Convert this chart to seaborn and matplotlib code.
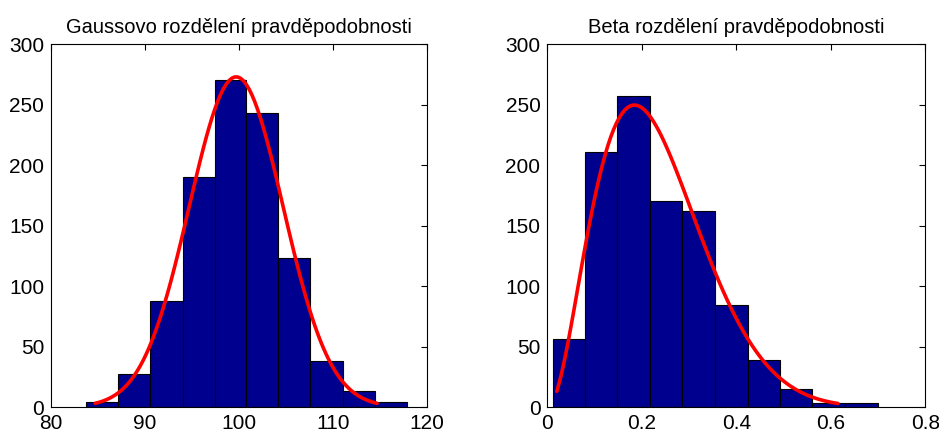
import math
import numpy as np
import pandas as pd
import matplotlib
matplotlib.use("Agg")
import matplotlib.pyplot as plt
import seaborn as sns

# Histogram of the Gaussian sample (bin edges and counts)
gauss_edges = [83.7, 87.1, 90.5, 94.0, 97.4, 100.8, 104.2, 107.6, 111.1, 114.5, 117.9]
gauss_counts = [4, 27, 88, 190, 270, 243, 123, 38, 13, 4]
gauss_mu = 99.7
gauss_sigma = 5.0

# Histogram of the Beta sample (bin edges and counts)
beta_edges = [0.011, 0.079, 0.148, 0.217, 0.286, 0.355, 0.424, 0.492, 0.561, 0.630, 0.699]
beta_counts = [56, 211, 257, 170, 162, 84, 39, 15, 3, 3]
beta_a = 3.1
beta_b = 10.3
beta_range = [0.02, 0.615]

titles = ["Gaussovo rozdělení pravděpodobnosti", "Beta rozdělení pravděpodobnosti"]
gauss_xticks = [80, 90, 100, 110, 120]
beta_xticks = [0, 0.2, 0.4, 0.6, 0.8]
beta_xticklabels = ["0", "0.2", "0.4", "0.6", "0.8"]
yticks = [0, 50, 100, 150, 200, 250, 300]

sns.set_theme(style="white")
plt.rcParams["font.family"] = ["Liberation Sans", "DejaVu Sans"]

BAR = "#00008f"


def normal_pdf(x, mu, s):
    return np.exp(-0.5 * ((x - mu) / s) ** 2) / (s * math.sqrt(2 * math.pi))


def beta_pdf(x, a, b):
    lnb = math.lgamma(a) + math.lgamma(b) - math.lgamma(a + b)
    return np.exp((a - 1) * np.log(x) + (b - 1) * np.log(1 - x) - lnb)


def draw_hist(ax, edges, counts):
    e = np.asarray(edges, dtype=float)
    df = pd.DataFrame({"value": (e[:-1] + e[1:]) / 2, "count": counts})
    sns.histplot(data=df, x="value", weights="count", bins=list(edges),
                 color=BAR, edgecolor="black", linewidth=0.8, alpha=1.0, ax=ax)


def style_axes(ax, title):
    ax.set_ylim(0, 300)
    ax.set_yticks(yticks)
    ax.set_xlabel("")
    ax.set_ylabel("")
    ax.set_title(title, fontsize=14.5, pad=8, color="black")
    ax.tick_params(direction="in", length=4, width=0.8, top=True, right=True,
                   labelsize=15, colors="black", pad=5)
    for sp in ax.spines.values():
        sp.set_visible(True)
        sp.set_color("black")
        sp.set_linewidth(0.8)


fig = plt.figure(figsize=(9.39, 4.34), dpi=100)
ax1 = fig.add_axes([0.0543, 0.0622, 0.4004, 0.8364])
ax2 = fig.add_axes([0.5829, 0.0622, 0.4026, 0.8364])

# Gaussian panel
draw_hist(ax1, gauss_edges, gauss_counts)
gw = (gauss_edges[-1] - gauss_edges[0]) / len(gauss_counts)
gn = sum(gauss_counts)
gx = np.linspace(gauss_mu - 3 * gauss_sigma, gauss_mu + 3 * gauss_sigma, 100)
sns.lineplot(x=gx, y=gn * gw * normal_pdf(gx, gauss_mu, gauss_sigma),
             color="red", linewidth=2.6, ax=ax1)
ax1.set_xlim(80, 120)
ax1.set_xticks(gauss_xticks)
style_axes(ax1, titles[0])

# Beta panel
draw_hist(ax2, beta_edges, beta_counts)
bw = (beta_edges[-1] - beta_edges[0]) / len(beta_counts)
bn = sum(beta_counts)
bx = np.linspace(beta_range[0], beta_range[1], 100)
sns.lineplot(x=bx, y=bn * bw * beta_pdf(bx, beta_a, beta_b),
             color="red", linewidth=2.6, ax=ax2)
ax2.set_xlim(0, 0.8)
ax2.set_xticks(beta_xticks)
ax2.set_xticklabels(beta_xticklabels)
style_axes(ax2, titles[1])

fig.savefig("out.png", dpi=100, facecolor="white")
